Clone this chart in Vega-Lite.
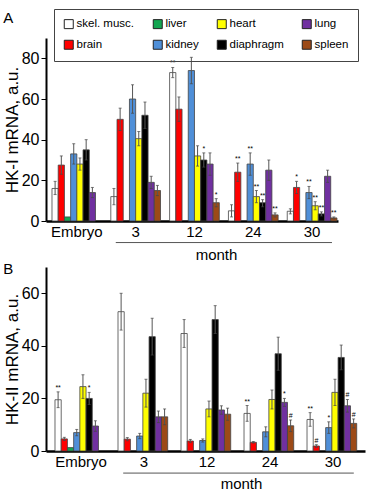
{
  "$schema": "https://vega.github.io/schema/vega-lite/v6.json",
  "padding": {"left": 3, "top": 8, "right": 2, "bottom": 2},
  "bounds": "flush",
  "spacing": 46,
  "config": {
    "font": "Liberation Sans",
    "view": {"stroke": null},
    "axis": {"labelColor": "#000", "titleColor": "#000", "domainColor": "#000", "tickColor": "#000", "grid": false}
  },
  "data": {"values": [
    {"p":"A","g":"Embryo","t":"skel. musc.","v":16,"lo":13,"hi":19.5,"s":""},
    {"p":"A","g":"Embryo","t":"brain","v":27.5,"lo":23,"hi":32,"s":""},
    {"p":"A","g":"Embryo","t":"liver","v":2,"lo":2,"hi":2,"s":""},
    {"p":"A","g":"Embryo","t":"kidney","v":33,"lo":28,"hi":38,"s":""},
    {"p":"A","g":"Embryo","t":"heart","v":28,"lo":25,"hi":31,"s":""},
    {"p":"A","g":"Embryo","t":"diaphragm","v":35,"lo":30,"hi":40,"s":""},
    {"p":"A","g":"Embryo","t":"lung","v":14,"lo":11.5,"hi":16.5,"s":""},
    {"p":"A","g":"3","t":"skel. musc.","v":12,"lo":8,"hi":16,"s":""},
    {"p":"A","g":"3","t":"brain","v":50,"lo":44.5,"hi":55.5,"s":""},
    {"p":"A","g":"3","t":"kidney","v":60,"lo":53,"hi":67,"s":""},
    {"p":"A","g":"3","t":"heart","v":40.5,"lo":37,"hi":44,"s":""},
    {"p":"A","g":"3","t":"diaphragm","v":52,"lo":45.5,"hi":58.5,"s":""},
    {"p":"A","g":"3","t":"lung","v":19,"lo":16,"hi":22,"s":""},
    {"p":"A","g":"3","t":"spleen","v":15,"lo":12.5,"hi":17.5,"s":""},
    {"p":"A","g":"12","t":"skel. musc.","v":73,"lo":70.5,"hi":75.5,"s":"**"},
    {"p":"A","g":"12","t":"brain","v":55,"lo":49,"hi":61,"s":""},
    {"p":"A","g":"12","t":"kidney","v":74,"lo":67.5,"hi":80.5,"s":""},
    {"p":"A","g":"12","t":"heart","v":32,"lo":27,"hi":37,"s":""},
    {"p":"A","g":"12","t":"diaphragm","v":30,"lo":26.5,"hi":33.5,"s":"*"},
    {"p":"A","g":"12","t":"lung","v":28,"lo":22.5,"hi":33.5,"s":""},
    {"p":"A","g":"12","t":"spleen","v":9,"lo":7,"hi":11,"s":"*"},
    {"p":"A","g":"24","t":"skel. musc.","v":5,"lo":2,"hi":8,"s":""},
    {"p":"A","g":"24","t":"brain","v":24,"lo":19.5,"hi":28.5,"s":"**"},
    {"p":"A","g":"24","t":"kidney","v":28,"lo":22.5,"hi":33.5,"s":"**"},
    {"p":"A","g":"24","t":"heart","v":12,"lo":9,"hi":15,"s":"**"},
    {"p":"A","g":"24","t":"diaphragm","v":9,"lo":7,"hi":10.5,"s":"**"},
    {"p":"A","g":"24","t":"lung","v":25,"lo":20,"hi":30,"s":""},
    {"p":"A","g":"24","t":"spleen","v":3,"lo":2,"hi":4,"s":"**"},
    {"p":"A","g":"30","t":"skel. musc.","v":4.8,"lo":3.5,"hi":6,"s":""},
    {"p":"A","g":"30","t":"brain","v":16.5,"lo":13.5,"hi":19.5,"s":"*"},
    {"p":"A","g":"30","t":"kidney","v":14,"lo":11,"hi":17,"s":"**"},
    {"p":"A","g":"30","t":"heart","v":7.5,"lo":5.5,"hi":9.5,"s":"**"},
    {"p":"A","g":"30","t":"diaphragm","v":3.5,"lo":2.5,"hi":4.5,"s":"**"},
    {"p":"A","g":"30","t":"lung","v":22,"lo":19,"hi":25,"s":""},
    {"p":"A","g":"30","t":"spleen","v":1.5,"lo":1,"hi":2,"s":"**"},
    {"p":"B","g":"Embryo","t":"skel. musc.","v":19.5,"lo":16.5,"hi":22.5,"s":"**"},
    {"p":"B","g":"Embryo","t":"brain","v":4.6,"lo":4,"hi":5.2,"s":""},
    {"p":"B","g":"Embryo","t":"liver","v":1.3,"lo":1.3,"hi":1.3,"s":""},
    {"p":"B","g":"Embryo","t":"kidney","v":7,"lo":5.8,"hi":8.2,"s":""},
    {"p":"B","g":"Embryo","t":"heart","v":24.5,"lo":20,"hi":29,"s":""},
    {"p":"B","g":"Embryo","t":"diaphragm","v":20,"lo":17.7,"hi":22.3,"s":"*"},
    {"p":"B","g":"Embryo","t":"lung","v":9.5,"lo":7.5,"hi":11.5,"s":""},
    {"p":"B","g":"3","t":"skel. musc.","v":53,"lo":46,"hi":60,"s":""},
    {"p":"B","g":"3","t":"brain","v":4.5,"lo":3.9,"hi":5.1,"s":""},
    {"p":"B","g":"3","t":"kidney","v":5.7,"lo":4.7,"hi":6.7,"s":""},
    {"p":"B","g":"3","t":"heart","v":22,"lo":16.7,"hi":27.3,"s":""},
    {"p":"B","g":"3","t":"diaphragm","v":43.5,"lo":36.5,"hi":50.5,"s":""},
    {"p":"B","g":"3","t":"lung","v":13,"lo":10.8,"hi":15.2,"s":""},
    {"p":"B","g":"3","t":"spleen","v":13,"lo":10,"hi":16,"s":""},
    {"p":"B","g":"12","t":"skel. musc.","v":44.7,"lo":39.4,"hi":50,"s":""},
    {"p":"B","g":"12","t":"brain","v":3.8,"lo":3.2,"hi":4.4,"s":""},
    {"p":"B","g":"12","t":"kidney","v":4,"lo":3.4,"hi":4.6,"s":""},
    {"p":"B","g":"12","t":"heart","v":16,"lo":13,"hi":19,"s":""},
    {"p":"B","g":"12","t":"diaphragm","v":50,"lo":44.7,"hi":55.3,"s":""},
    {"p":"B","g":"12","t":"lung","v":15.6,"lo":14,"hi":17.2,"s":""},
    {"p":"B","g":"12","t":"spleen","v":14,"lo":11.7,"hi":16.3,"s":""},
    {"p":"B","g":"24","t":"skel. musc.","v":14.3,"lo":11.3,"hi":17.3,"s":"**"},
    {"p":"B","g":"24","t":"brain","v":3.3,"lo":3,"hi":3.6,"s":""},
    {"p":"B","g":"24","t":"kidney","v":7.3,"lo":5.4,"hi":9.2,"s":""},
    {"p":"B","g":"24","t":"heart","v":19.6,"lo":16,"hi":23.2,"s":""},
    {"p":"B","g":"24","t":"diaphragm","v":37,"lo":30.7,"hi":43.3,"s":""},
    {"p":"B","g":"24","t":"lung","v":18.5,"lo":17,"hi":20,"s":"*"},
    {"p":"B","g":"24","t":"spleen","v":9.6,"lo":7.4,"hi":11.8,"s":"#"},
    {"p":"B","g":"30","t":"skel. musc.","v":12,"lo":9.4,"hi":14.6,"s":"**"},
    {"p":"B","g":"30","t":"brain","v":1.9,"lo":1.4,"hi":2.4,"s":"#"},
    {"p":"B","g":"30","t":"kidney","v":8.9,"lo":6.7,"hi":11.1,"s":"*"},
    {"p":"B","g":"30","t":"heart","v":22.3,"lo":17.3,"hi":27.3,"s":""},
    {"p":"B","g":"30","t":"diaphragm","v":35.6,"lo":30.9,"hi":40.3,"s":""},
    {"p":"B","g":"30","t":"lung","v":17.2,"lo":14.8,"hi":19.6,"s":"#"},
    {"p":"B","g":"30","t":"spleen","v":10.5,"lo":8.8,"hi":12.2,"s":"#"}
  ]},
  "vconcat": [
    {
      "width": 292,
      "height": 183,
      "title": {"text": "A", "anchor": "start", "frame": "bounds", "fontSize": 15, "fontWeight": "normal", "baseline": "alphabetic", "offset": 0},
      "layer": [
        {
          "transform": [{"filter": "datum.p == 'A'"}],
          "mark": {"type": "bar", "stroke": "#444", "strokeWidth": 0.8},
          "encoding": {
            "x": {"field": "g", "type": "nominal", "scale": {"domain": ["Embryo","3","12","24","30"], "paddingInner": 0.155, "paddingOuter": 0.06, "align": 0.85},
                  "axis": {"title": "month", "titleFontSize": 15, "titleFontWeight": "normal", "titleX": 170, "titleY": 33.5, "titleBaseline": "middle", "labelFontSize": 15, "labelAngle": 0, "ticks": false, "tickSize": 0, "labelPadding": 3, "domainWidth": 2.5}},
            "xOffset": {"field": "t", "type": "nominal", "scale": {"domain": ["skel. musc.","brain","liver","kidney","heart","diaphragm","lung","spleen"], "paddingInner": 0, "paddingOuter": 0}},
            "y": {"field": "v", "type": "quantitative", "scale": {"domain": [0, 90], "nice": false},
                  "axis": {"title": "HK-I mRNA, a.u.", "titleFontSize": 17, "titleFontWeight": "normal", "titlePadding": 0, "values": [0,10,20,30,40,50,60,70,80,90], "labelExpr": "datum.value % 20 === 0 ? datum.label : ''", "labelFontSize": 16, "tickSize": 5, "labelPadding": 2, "domainWidth": 2}},
            "color": {"field": "t", "type": "nominal",
                      "scale": {"domain": ["skel. musc.","brain","liver","kidney","heart","diaphragm","lung","spleen"], "range": ["#ffffff","#ff0000","#12a550","#4f8fd8","#ffff00","#000000","#7030a0","#9c4a17"]},
                      "legend": {"title": null, "orient": "none", "legendX": 8, "legendY": -29, "columns": 4, "gridAlign": "each", "columnPadding": 16, "rowPadding": 7, "padding": 9, "strokeColor": "#444", "symbolType": "square", "symbolSize": 81, "symbolStrokeColor": "#222", "symbolStrokeWidth": 1, "labelFontSize": 11.5, "labelOffset": 2, "labelColor": "#000"}}
          }
        },
        {
          "transform": [{"filter": "datum.p == 'A' && datum.hi > datum.lo"}],
          "mark": {"type": "rule", "color": "#555", "strokeWidth": 1},
          "encoding": {
            "x": {"field": "g", "type": "nominal"},
            "xOffset": {"field": "t", "type": "nominal"},
            "y": {"field": "lo", "type": "quantitative"},
            "y2": {"field": "hi"}
          }
        },
        {
          "transform": [{"filter": "datum.p == 'A' && datum.hi > datum.lo"}],
          "mark": {"type": "tick", "orient": "horizontal", "size": 3, "thickness": 1, "color": "#444"},
          "encoding": {
            "x": {"field": "g", "type": "nominal"},
            "xOffset": {"field": "t", "type": "nominal"},
            "y": {"field": "hi", "type": "quantitative"}
          }
        },
        {
          "transform": [{"filter": "datum.p == 'A' && datum.hi > datum.lo"}],
          "mark": {"type": "tick", "orient": "horizontal", "size": 3, "thickness": 1, "color": "#444"},
          "encoding": {
            "x": {"field": "g", "type": "nominal"},
            "xOffset": {"field": "t", "type": "nominal"},
            "y": {"field": "lo", "type": "quantitative"}
          }
        },
        {
          "transform": [{"filter": "datum.p == 'A' && datum.s != ''"}],
          "mark": {"type": "text", "fontSize": 7, "baseline": "bottom", "dy": -1, "color": "#000"},
          "encoding": {
            "x": {"field": "g", "type": "nominal"},
            "xOffset": {"field": "t", "type": "nominal"},
            "y": {"field": "hi", "type": "quantitative"},
            "text": {"field": "s"}
          }
        },
        {
          "data": {"values": [{}]},
          "mark": {"type": "rule", "color": "#555", "strokeWidth": 1},
          "encoding": {
            "x": {"datum": "3", "bandPosition": 0.1},
            "x2": {"datum": "30", "bandPosition": 0.9},
            "y": {"datum": -10.6, "type": "quantitative"}
          }
        }
      ]
    },
    {
      "width": 319,
      "height": 184,
      "title": {"text": "B", "anchor": "start", "frame": "bounds", "fontSize": 15, "fontWeight": "normal", "baseline": "alphabetic", "offset": -22},
      "layer": [
        {
          "transform": [{"filter": "datum.p == 'B'"}],
          "mark": {"type": "bar", "stroke": "#444", "strokeWidth": 0.8},
          "encoding": {
            "x": {"field": "g", "type": "nominal", "scale": {"domain": ["Embryo","3","12","24","30"], "paddingInner": 0.175, "paddingOuter": 0.119, "align": 0.6},
                  "axis": {"title": "month", "titleFontSize": 15, "titleFontWeight": "normal", "titleX": 195, "titleY": 32, "titleBaseline": "middle", "labelFontSize": 15, "labelAngle": 0, "ticks": false, "tickSize": 0, "labelPadding": 3, "domainWidth": 2.5}},
            "xOffset": {"field": "t", "type": "nominal", "scale": {"domain": ["skel. musc.","brain","liver","kidney","heart","diaphragm","lung","spleen"], "paddingInner": 0, "paddingOuter": 0}},
            "y": {"field": "v", "type": "quantitative", "scale": {"domain": [0, 70], "nice": false},
                  "axis": {"title": "HK-II mRNA, a.u.", "titleFontSize": 17, "titleFontWeight": "normal", "titlePadding": 0, "values": [0,10,20,30,40,50,60,70], "labelExpr": "datum.value % 20 === 0 ? datum.label : ''", "labelFontSize": 16, "tickSize": 5, "labelPadding": 2, "domainWidth": 2}},
            "color": {"field": "t", "type": "nominal",
                      "scale": {"domain": ["skel. musc.","brain","liver","kidney","heart","diaphragm","lung","spleen"], "range": ["#ffffff","#ff0000","#12a550","#4f8fd8","#ffff00","#000000","#7030a0","#9c4a17"]},
                      "legend": {"title": null, "orient": "none", "legendX": 8, "legendY": -29, "columns": 4, "gridAlign": "each", "columnPadding": 16, "rowPadding": 7, "padding": 9, "strokeColor": "#444", "symbolType": "square", "symbolSize": 81, "symbolStrokeColor": "#222", "symbolStrokeWidth": 1, "labelFontSize": 11.5, "labelOffset": 2, "labelColor": "#000"}}
          }
        },
        {
          "transform": [{"filter": "datum.p == 'B' && datum.hi > datum.lo"}],
          "mark": {"type": "rule", "color": "#555", "strokeWidth": 1},
          "encoding": {
            "x": {"field": "g", "type": "nominal"},
            "xOffset": {"field": "t", "type": "nominal"},
            "y": {"field": "lo", "type": "quantitative"},
            "y2": {"field": "hi"}
          }
        },
        {
          "transform": [{"filter": "datum.p == 'B' && datum.hi > datum.lo"}],
          "mark": {"type": "tick", "orient": "horizontal", "size": 3, "thickness": 1, "color": "#444"},
          "encoding": {
            "x": {"field": "g", "type": "nominal"},
            "xOffset": {"field": "t", "type": "nominal"},
            "y": {"field": "hi", "type": "quantitative"}
          }
        },
        {
          "transform": [{"filter": "datum.p == 'B' && datum.hi > datum.lo"}],
          "mark": {"type": "tick", "orient": "horizontal", "size": 3, "thickness": 1, "color": "#444"},
          "encoding": {
            "x": {"field": "g", "type": "nominal"},
            "xOffset": {"field": "t", "type": "nominal"},
            "y": {"field": "lo", "type": "quantitative"}
          }
        },
        {
          "transform": [{"filter": "datum.p == 'B' && datum.s != ''"}],
          "mark": {"type": "text", "fontSize": 7, "baseline": "bottom", "dy": -1, "color": "#000"},
          "encoding": {
            "x": {"field": "g", "type": "nominal"},
            "xOffset": {"field": "t", "type": "nominal"},
            "y": {"field": "hi", "type": "quantitative"},
            "text": {"field": "s"}
          }
        },
        {
          "data": {"values": [{}]},
          "mark": {"type": "rule", "color": "#555", "strokeWidth": 1},
          "encoding": {
            "x": {"datum": "3", "bandPosition": 0.1},
            "x2": {"datum": "30", "bandPosition": 0.9},
            "y": {"datum": -8.4, "type": "quantitative"}
          }
        }
      ]
    }
  ]
}
